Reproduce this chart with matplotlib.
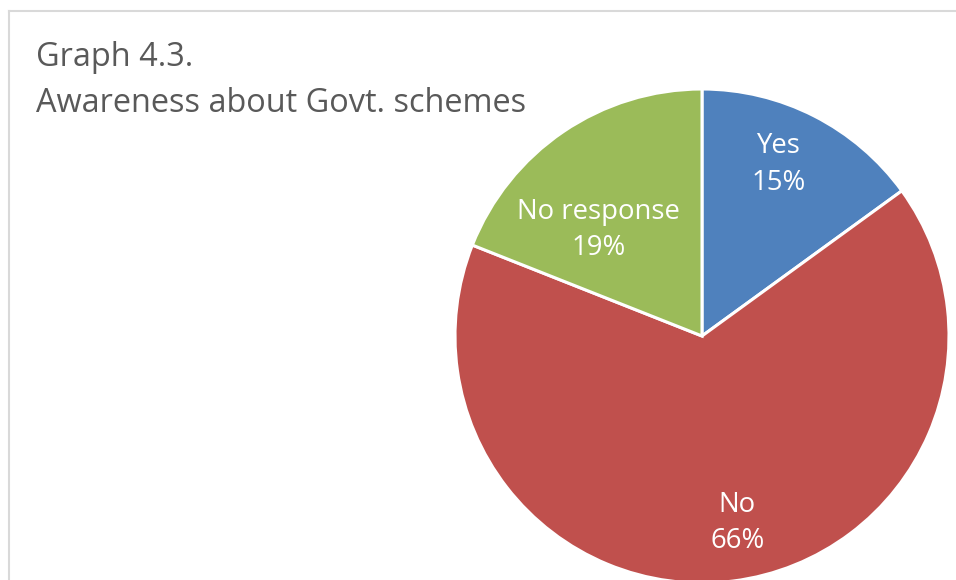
import matplotlib
matplotlib.use("Agg")
import matplotlib.pyplot as plt
import numpy as np
from matplotlib.lines import Line2D

categories = ["Yes", "No", "No response"]
shares = [15, 66, 19]
colors = ["#4F81BD", "#C0504D", "#9BBB59"]
title_lines = ["Graph 4.3.", "Awareness about Govt. schemes"]

plt.rcParams["font.family"] = ["Open Sans", "DejaVu Sans"]

W, H = 956, 580
fig = plt.figure(figsize=(W / 100, H / 100), dpi=100)
ax = fig.add_axes([0, 0, 1, 1])
ax.axis("off")

# chart frame (top and left edges visible)
fig.add_artist(Line2D([9 / W, 1.0], [1 - 11 / H, 1 - 11 / H], transform=fig.transFigure,
                      color="#D9D9D9", lw=1.5))
fig.add_artist(Line2D([9 / W, 9 / W], [0, 1 - 11 / H], transform=fig.transFigure,
                      color="#D9D9D9", lw=1.5))

cx, cy, R = 702, H - 336, 247
wedges, _ = ax.pie(shares, colors=colors, startangle=90, counterclock=False,
                   center=(cx, cy), radius=R,
                   wedgeprops=dict(edgecolor="white", linewidth=2.2))
ax.set_xlim(0, W)
ax.set_ylim(0, H)
ax.set_aspect("equal")

# label placement: fraction of radius and angular nudge per slice
label_dist = [0.76, 0.77, 0.60]
angle_shift = [3, 3.5, 10]
for w, name, val, d, da in zip(wedges, categories, shares, label_dist, angle_shift):
    mid = np.deg2rad((w.theta1 + w.theta2) / 2 + da)
    x = cx + d * R * np.cos(mid)
    y = cy + d * R * np.sin(mid)
    ax.text(x, y, f"{name}\n{val}%", ha="center", va="center", color="white",
            fontsize=19.8, linespacing=1.4)

fig.text(36 / W, 1 - 57 / H, title_lines[0], ha="left", va="center",
         color="#595959", fontsize=23.4)
fig.text(36 / W, 1 - 103 / H, title_lines[1], ha="left", va="center",
         color="#595959", fontsize=23.4)

fig.savefig("out.png", dpi=100, facecolor="white")
